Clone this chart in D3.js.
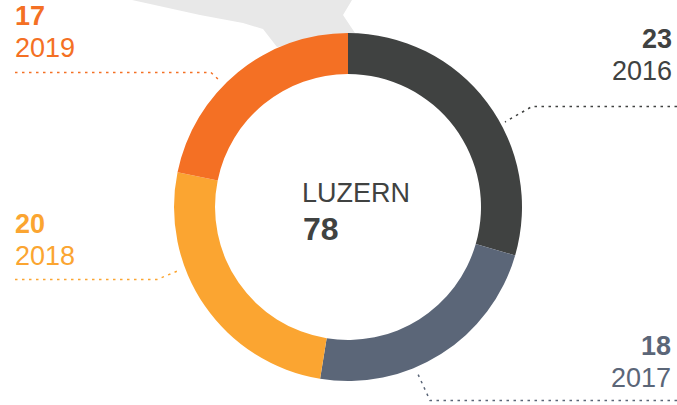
<!DOCTYPE html>
<html><head><meta charset="utf-8">
<script src="https://cdnjs.cloudflare.com/ajax/libs/d3/7.8.5/d3.min.js"></script>
<style>html,body{margin:0;padding:0;background:#fff}svg{display:block}text{font-family:"Liberation Sans",Arial,sans-serif}</style>
</head><body><svg id="c" width="677" height="405"></svg>
<script>
const years=["2016","2017","2018","2019"];
const values=[23,18,20,17];
const colors=["#404241","#5b6678","#fba531","#f47024"];
const title="LUZERN";
const total=78;
const svg=d3.select("#c");
// faint map shape behind the ring
svg.append("path").attr("fill","#e8e8e8")
 .attr("d","M132,0L200,15L243,23L263,29L277,47L355,33L343,15L352,0Z");
const g=svg.append("g").attr("transform","translate(348,207)");
const pie=d3.pie().sort(null)(values);
const arc=d3.arc().innerRadius(133).outerRadius(174);
g.selectAll("path").data(pie).join("path").attr("d",arc).attr("fill",(d,i)=>colors[i]);
const leaders=[
 [[677,106.5],[532,106.5],[505,122]],
 [[677,400.5],[430,400.5],[417,372]],
 [[15,279.5],[157,279.5],[180,270]],
 [[15,72.5],[211,72.5],[221,82]]
];
const line=d3.line();
svg.selectAll("path.l").data(leaders).join("path").attr("class","l").attr("d",line).attr("fill","none")
 .attr("stroke",(d,i)=>colors[i]).attr("stroke-width",1.5).attr("stroke-dasharray","2.5 4.5");
const labels=[
 {x:672,y:48,a:"end"},{x:671,y:355,a:"end"},{x:15,y:233,a:"start"},{x:15,y:25,a:"start"}
];
labels.forEach((p,i)=>{
 svg.append("text").attr("x",p.x).attr("y",p.y).attr("text-anchor",p.a).attr("fill",colors[i])
  .attr("font-size",27).attr("font-weight",700).text(values[i]);
 svg.append("text").attr("x",p.x).attr("y",p.y+32).attr("text-anchor",p.a).attr("fill",colors[i])
  .attr("font-size",27).text(years[i]);
});
svg.append("text").attr("x",302).attr("y",202).attr("fill","#404241").attr("font-size",27).text(title);
svg.append("text").attr("x",303).attr("y",240).attr("fill","#404241").attr("font-size",32).attr("font-weight",700).text(total);
</script></body></html>
